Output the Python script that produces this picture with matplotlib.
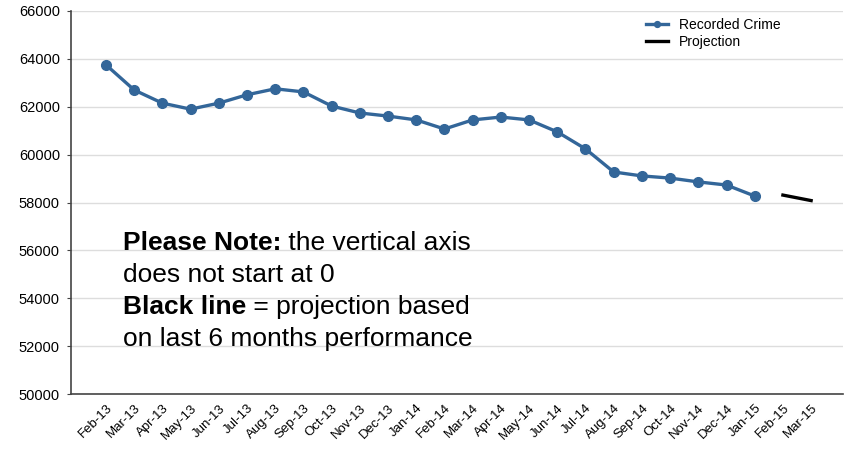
import matplotlib
matplotlib.use("Agg")
import matplotlib.pyplot as plt

plt.rcParams['font.family'] = ['Liberation Sans', 'DejaVu Sans']

months = ["Feb-13", "Mar-13", "Apr-13", "May-13", "Jun-13", "Jul-13", "Aug-13",
          "Sep-13", "Oct-13", "Nov-13", "Dec-13", "Jan-14", "Feb-14", "Mar-14",
          "Apr-14", "May-14", "Jun-14", "Jul-14", "Aug-14", "Sep-14", "Oct-14",
          "Nov-14", "Dec-14", "Jan-15", "Feb-15", "Mar-15"]
recorded = [63750, 62700, 62150, 61900, 62150, 62500, 62750, 62620, 62030,
            61740, 61610, 61450, 61070, 61450, 61570, 61450, 60950, 60240,
            59275, 59110, 59020, 58860, 58730, 58270]
proj_months = ["Feb-15", "Mar-15"]
projection = [58310, 58080]

blue = "#336699"
W, H = 847, 454

fig = plt.figure(figsize=(W / 100, H / 100), dpi=100)
ax = fig.add_axes([71 / W, 1 - 394 / H, (843 - 71) / W, (394 - 11) / H])

x_rec = list(range(len(recorded)))
x_proj = [months.index(m) for m in proj_months]

ax.plot(x_rec, recorded, color=blue, linewidth=2.4, marker='o', markersize=7,
        label="Recorded Crime", zorder=3)
ax.plot(x_proj, projection, color="black", linewidth=2.4, label="Projection", zorder=3)

ax.set_ylim(50000, 66000)
ax.set_yticks(range(50000, 66001, 2000))
ax.set_xlim(-1.24, 26.13)
ax.set_xticks(range(len(months)))
ax.set_xticklabels(months, rotation=45, ha='right', rotation_mode='anchor', fontsize=9.5)
ax.tick_params(axis='y', labelsize=10.5, length=3, pad=5, color='#444444')
ax.tick_params(axis='x', length=0, pad=6)

ax.grid(axis='y', color='#dddddd', linewidth=1)
ax.set_axisbelow(True)
for s in ['top', 'right']:
    ax.spines[s].set_visible(False)
for s in ['left', 'bottom']:
    ax.spines[s].set_color('#444444')
    ax.spines[s].set_linewidth(1.2)

ax.legend(loc='upper left', bbox_to_anchor=(562 / 772, 1.015), frameon=False,
          fontsize=10, handlelength=1.6, handletextpad=0.8, labelspacing=0.2,
          markerscale=0.6)

fs = 19
x0 = 123 / W
fig.text(x0, 1 - 243 / H, "Please Note:", fontsize=fs, fontweight='bold', va='center')
fig.text(x0, 1 - 275 / H, "does not start at 0", fontsize=fs, va='center')
fig.text(x0, 1 - 307 / H, "Black line", fontsize=fs, fontweight='bold', va='center')
fig.text(x0, 1 - 339 / H, "on last 6 months performance", fontsize=fs, va='center')

# append the regular-weight parts after the bold parts
fig.canvas.draw()
r = fig.canvas.get_renderer()
for t, rest in [(fig.texts[0], " the vertical axis"), (fig.texts[2], " = projection based")]:
    bb = t.get_window_extent(r)
    fig.text(bb.x1 / W, t.get_position()[1], rest, fontsize=fs, va='center')

fig.savefig("out.png", dpi=100)
